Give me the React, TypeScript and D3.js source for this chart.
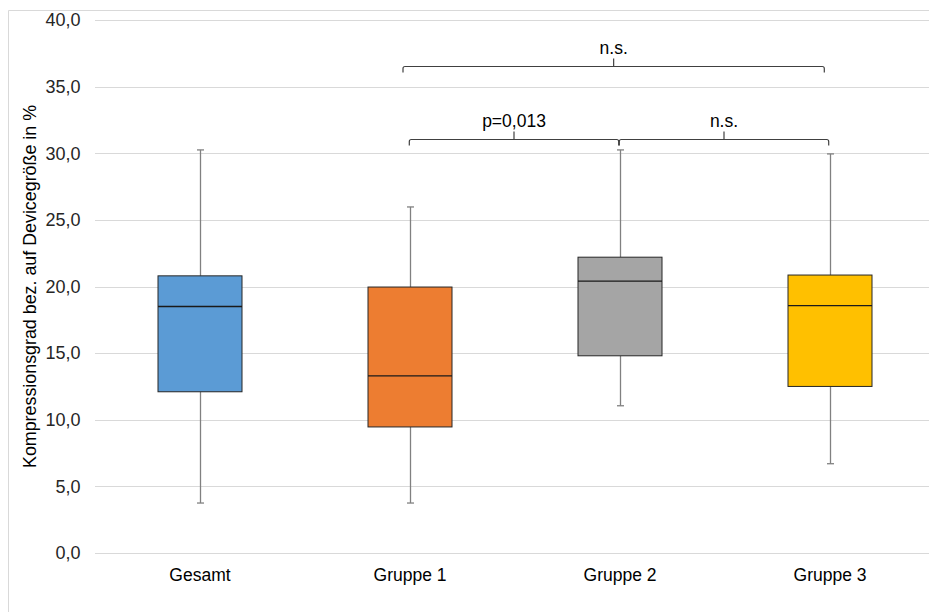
import React from "react";
import * as d3 from "d3";

const categories = ["Gesamt", "Gruppe 1", "Gruppe 2", "Gruppe 3"];
const whiskerLow = [3.75, 3.75, 11.05, 6.7];
const q1Values = [12.1, 9.46, 14.8, 12.5];
const medianValues = [18.5, 13.3, 20.4, 18.56];
const q3Values = [20.8, 19.96, 22.2, 20.86];
const whiskerHigh = [30.25, 25.97, 30.25, 29.95];
const fillColors = ["#5B9BD5", "#ED7D31", "#A5A5A5", "#FFC000"];
const yTicks = [0, 5, 10, 15, 20, 25, 30, 35, 40];
const bracketFrom = ["Gruppe 1", "Gruppe 1", "Gruppe 2"];
const bracketTo = ["Gruppe 3", "Gruppe 2", "Gruppe 3"];
const bracketLevel = [36.55, 31.1, 31.1];
const bracketLabel = ["n.s.", "p=0,013", "n.s."];
const yTitle = "Kompressionsgrad bez. auf Devicegröße in %";

const W = 929;
const H = 612;
const FONT = "'Liberation Sans', Arial, sans-serif";

export default function App() {
  const x = d3.scaleBand<string>().domain(categories).range([95, 935]);
  const y = d3.scaleLinear().domain([0, 40]).range([553, 20]);
  const bw = x.bandwidth();
  const boxW = bw * 0.4;
  const cx = (c: string) => (x(c) as number) + bw / 2;
  const fmt = (v: number) => v.toFixed(1).replace(".", ",");

  return (
    <svg width={W} height={H} style={{ position: "absolute", left: 0, top: 0, display: "block" }}>
      <rect x={0} y={0} width={W} height={H} fill="#fff" />
      {/* chart border */}
      <line x1={8.5} y1={10.5} x2={W} y2={10.5} stroke="#d9d9d9" />
      <line x1={8.5} y1={10.5} x2={8.5} y2={H} stroke="#d9d9d9" />
      {/* gridlines */}
      {yTicks.map((t) => (
        <line key={"g" + t} x1={95} x2={W} y1={Math.round(y(t)) + 0.5} y2={Math.round(y(t)) + 0.5} stroke="#d9d9d9" strokeWidth={1.2} />
      ))}
      {/* tick labels */}
      {yTicks.map((t) => (
        <text key={"t" + t} x={80.5} y={y(t)} dy="0.35em" textAnchor="end" fontFamily={FONT} fontSize={18} fill="#262626">
          {fmt(t)}
        </text>
      ))}
      {/* y title */}
      <text
        transform={`translate(36,${286.5}) rotate(-90)`}
        textAnchor="middle"
        fontFamily={FONT}
        fontSize={17.5}
        textLength={363}
        lengthAdjust="spacingAndGlyphs"
        fill="#000"
      >
        {yTitle}
      </text>
      {/* category labels */}
      {categories.map((c) => (
        <text key={"c" + c} x={cx(c)} y={581} textAnchor="middle" fontFamily={FONT} fontSize={17.5} fill="#000">
          {c}
        </text>
      ))}
      {/* boxes */}
      {categories.map((c, i) => {
        const m = Math.round(cx(c)) + 0.5;
        const x0 = cx(c) - boxW / 2;
        return (
          <g key={"b" + c}>
            <line x1={m} x2={m} y1={y(whiskerHigh[i])} y2={y(q3Values[i])} stroke="#808080" strokeWidth={1.3} />
            <line x1={m} x2={m} y1={y(q1Values[i])} y2={y(whiskerLow[i])} stroke="#808080" strokeWidth={1.3} />
            <line x1={m - 3.5} x2={m + 3.5} y1={y(whiskerHigh[i])} y2={y(whiskerHigh[i])} stroke="#808080" strokeWidth={1.3} />
            <line x1={m - 3.5} x2={m + 3.5} y1={y(whiskerLow[i])} y2={y(whiskerLow[i])} stroke="#808080" strokeWidth={1.3} />
            <rect
              x={x0}
              y={y(q3Values[i])}
              width={boxW}
              height={y(q1Values[i]) - y(q3Values[i])}
              fill={fillColors[i]}
              stroke="#262626"
              strokeWidth={1}
            />
            <line x1={x0} x2={x0 + boxW} y1={y(medianValues[i])} y2={y(medianValues[i])} stroke="#1a1a1a" strokeWidth={1.3} />
          </g>
        );
      })}
      {/* significance brackets */}
      {bracketLabel.map((lab, i) => {
        const x1 = cx(bracketFrom[i]) - (i === 0 ? 7 : 0.7);
        const x2 = cx(bracketTo[i]) - (i === 0 ? 5.7 : 1.3);
        const yy = Math.round(y(bracketLevel[i])) + 0.5;
        const xm = (x1 + x2) / 2;
        const d = `M${x1},${yy + 6} L${x1},${yy + 2} Q${x1},${yy} ${x1 + 2},${yy} L${x2 - 2},${yy} Q${x2},${yy} ${x2},${yy + 2} L${x2},${yy + 6}`;
        return (
          <g key={"br" + i}>
            <path d={d} fill="none" stroke="#404040" strokeWidth={1.2} />
            <line x1={xm} x2={xm} y1={yy} y2={yy - 8} stroke="#404040" strokeWidth={1.2} />
            <text x={xm} y={yy - 13} textAnchor="middle" fontFamily={FONT} fontSize={17.5} fill="#000">
              {lab}
            </text>
          </g>
        );
      })}
    </svg>
  );
}
